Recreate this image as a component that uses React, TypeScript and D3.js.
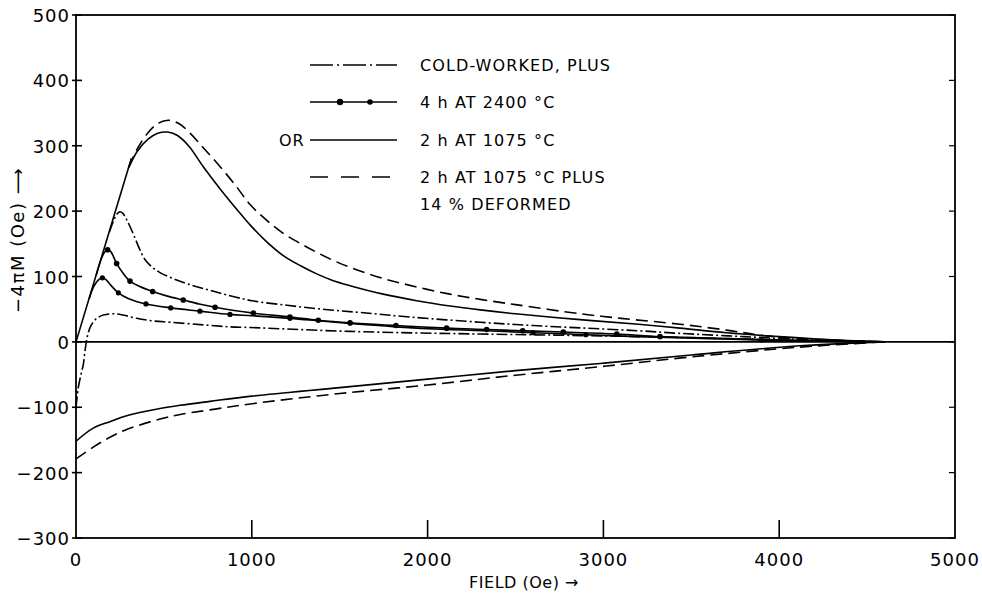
import React from "react";
import * as d3 from "d3";

type P = [number, number];

const xTicks = [0, 1000, 2000, 3000, 4000, 5000];
const yTicks = [-300, -200, -100, 0, 100, 200, 300, 400, 500];

const initialLine: P[] = [[0, 0], [315, 281]];

const solidUpper: P[] = [[300, 267], [350, 292], [410, 310], [465, 319], [519, 321], [575, 316], [640, 300], [724, 268], [820, 234], [914, 203], [990, 179], [1085, 153], [1179, 132], [1280, 116], [1369, 104], [1460, 94], [1559, 86], [1748, 73], [1938, 63], [2127, 55], [2300, 49], [2500, 43], [2867, 34], [3200, 27], [3436, 21], [3700, 14], [4000, 8], [4300, 3], [4600, 0]];

const dashedUpper: P[] = [[300, 267], [350, 296], [410, 320], [465, 334], [525, 339], [585, 334], [650, 319], [724, 297], [820, 268], [914, 237], [990, 210], [1085, 186], [1179, 166], [1280, 150], [1369, 137], [1460, 125], [1559, 114], [1748, 97], [1938, 84], [2127, 73], [2300, 65], [2500, 57], [2867, 43], [3100, 36], [3436, 27], [3700, 18], [3929, 9], [4200, 4], [4600, 0]];

const dotUpper: P[] = [[115, 102], [140, 124], [162, 137], [180, 141], [198, 138], [231, 120], [265, 106], [307, 93], [360, 85], [436, 77], [520, 70], [610, 64], [700, 58], [791, 53], [900, 48], [1009, 44], [1217, 38], [1378, 33], [1559, 29], [1820, 25], [2108, 21], [2336, 19], [2541, 17], [2772, 15], [3076, 12], [3322, 8], [3600, 6], [4000, 3], [4300, 1], [4600, 0]];
const dotUpperMarks = [180, 231, 307, 436, 610, 791, 1009, 1217, 1378, 1559, 1820, 2108, 2336, 2541, 2772, 3076, 3322];

const dotLower: P[] = [[75, 66], [100, 84], [125, 94], [150, 98], [172, 95], [200, 86], [241, 75], [300, 66], [398, 58], [539, 52], [705, 47], [876, 42], [999, 40], [1217, 36], [1388, 32], [1559, 28], [1820, 23], [2108, 19], [2336, 17], [2600, 14], [2900, 11], [3200, 8], [3600, 5], [4000, 2], [4600, 0]];
const dotLowerMarks = [150, 241, 398, 539, 705, 876, 1217, 2600, 2900, 3900];

const coldUpper: P[] = [[190, 168], [215, 186], [235, 196], [250, 199], [265, 197], [290, 186], [326, 165], [360, 143], [392, 126], [430, 115], [478, 106], [560, 96], [667, 86], [760, 79], [857, 72], [1000, 63], [1200, 56], [1400, 50], [1615, 45], [1900, 38], [2300, 30], [2600, 25], [2900, 21], [3200, 17], [3436, 13], [3800, 8], [4200, 3], [4600, 0]];

const coldLower: P[] = [[0, -100], [13, -70], [30, -48], [42, -34], [51, -14], [62, 5], [72, 16], [85, 25], [100, 31], [118, 36], [155, 41], [212, 43], [269, 41], [345, 36], [440, 32], [535, 30], [724, 26], [876, 23], [990, 22], [1559, 16], [2300, 12], [2800, 10], [3400, 7], [4000, 3], [4600, 0]];

const solidLower: P[] = [[0, -152], [98, -132], [193, -122], [288, -113], [478, -102], [592, -97], [762, -91], [1000, -83], [1500, -70], [2000, -57], [2500, -44], [2981, -33], [3500, -20], [4119, -6], [4600, 0]];

const dashedLower: P[] = [[0, -179], [98, -161], [193, -146], [288, -134], [478, -118], [592, -111], [762, -104], [1047, -93], [1500, -79], [2000, -66], [2500, -51], [2981, -38], [3500, -23], [4119, -8], [4600, 0]];

const zeroLine: P[] = [[0, 0], [5000, 0]];

const legendLabels = ["COLD-WORKED, PLUS", "4 h AT 2400 °C", "2 h AT 1075 °C", "2 h AT 1075 °C PLUS", "14 % DEFORMED"];

const X0 = 76, X1 = 955, Y0 = 538, Y1 = 15;
const FONT = "DejaVu Sans, sans-serif";

export default function App() {
  const x = d3.scaleLinear().domain([0, 5000]).range([X0, X1]);
  const y = d3.scaleLinear().domain([-300, 500]).range([Y0, Y1]);
  const smooth = d3.line<P>().x(d => x(d[0])).y(d => y(d[1])).curve(d3.curveCatmullRom.alpha(0.5));
  const straight = d3.line<P>().x(d => x(d[0])).y(d => y(d[1]));

  const interp = (pts: P[], fx: number) => {
    for (let i = 0; i < pts.length - 1; i++) {
      if (fx >= pts[i][0] && fx <= pts[i + 1][0]) {
        const t = (fx - pts[i][0]) / (pts[i + 1][0] - pts[i][0]);
        return pts[i][1] + t * (pts[i + 1][1] - pts[i][1]);
      }
    }
    return pts[pts.length - 1][1];
  };

  const sw = 1.6;
  const dashDot = "11 3 2 3";
  const dash = "12 6";

  const lx0 = 310, lx1 = 397, ltx = 420;
  const rows = [65, 102, 140, 177, 204];

  return (
    <svg width={982} height={593} style={{ position: "absolute", left: 0, top: 0, background: "#fff" }} fontFamily={FONT}>
      <rect x={0} y={0} width={982} height={593} fill="#fff" />
      <rect x={X0} y={Y1} width={X1 - X0} height={Y0 - Y1} fill="none" stroke="#000" strokeWidth={1.8} />
      {xTicks.map(t => (
        <g key={"xt" + t}>
          {t > 0 && t < 5000 && <line x1={x(t)} x2={x(t)} y1={Y0} y2={Y0 - 18} stroke="#000" strokeWidth={1.6} />}
          <text x={x(t)} y={566} textAnchor="middle" fontSize={18} letterSpacing={1}>{t}</text>
        </g>
      ))}
      {yTicks.map(t => (
        <g key={"yt" + t}>
          <line x1={X0 - 4} x2={X0 + 6} y1={y(t)} y2={y(t)} stroke="#000" strokeWidth={1.6} />
          <line x1={X1 - 6} x2={X1} y1={y(t)} y2={y(t)} stroke="#000" strokeWidth={1.2} />
          <text x={X0 - 6} y={y(t) + 7} textAnchor="end" fontSize={18} letterSpacing={1}>{t < 0 ? "\u2212" + Math.abs(t) : t}</text>
        </g>
      ))}
      <text transform={`translate(24,240) rotate(-90)`} textAnchor="middle" fontSize={18} letterSpacing={1.5}>{"\u22124\u03c0M (Oe) \u27f6"}</text>
      <text x={524} y={588} textAnchor="middle" fontSize={16} letterSpacing={0.5}>{"FIELD (Oe) \u2192"}</text>

      <g fill="none" stroke="#000" strokeWidth={sw}>
        <path d={straight(zeroLine)!} />
        <path d={straight(initialLine)!} />
        <path d={smooth(solidUpper)!} />
        <path d={smooth(dashedUpper)!} strokeDasharray={dash} />
        <path d={smooth(dotUpper)!} />
        <path d={smooth(dotLower)!} />
        <path d={smooth(coldUpper)!} strokeDasharray={dashDot} />
        <path d={smooth(coldLower)!} strokeDasharray={dashDot} />
        <path d={smooth(solidLower)!} />
        <path d={smooth(dashedLower)!} strokeDasharray={dash} />
      </g>
      <g fill="#000">
        {dotUpperMarks.map(m => <circle key={"u" + m} cx={x(m)} cy={y(interp(dotUpper, m))} r={2.8} />)}
        {dotLowerMarks.map(m => <circle key={"l" + m} cx={x(m)} cy={y(interp(dotLower, m))} r={2.6} />)}
      </g>

      <g stroke="#000" strokeWidth={sw} fill="none">
        <line x1={lx0} x2={lx1} y1={rows[0]} y2={rows[0]} strokeDasharray="23 4 2 4" />
        <line x1={lx0} x2={lx1} y1={rows[1]} y2={rows[1]} />
        <line x1={lx0} x2={lx1} y1={rows[2]} y2={rows[2]} />
        <line x1={lx0} x2={lx1} y1={rows[3]} y2={rows[3]} strokeDasharray="18 13" />
      </g>
      <circle cx={340} cy={rows[1]} r={3.2} fill="#000" />
      <circle cx={370} cy={rows[1]} r={2.8} fill="#000" />
      <text x={279} y={rows[2] + 6} fontSize={16} letterSpacing={0.8}>OR</text>
      {legendLabels.map((l, i) => (
        <text key={l} x={ltx} y={rows[i] + 6} fontSize={16} letterSpacing={1.1}>{l}</text>
      ))}
    </svg>
  );
}
